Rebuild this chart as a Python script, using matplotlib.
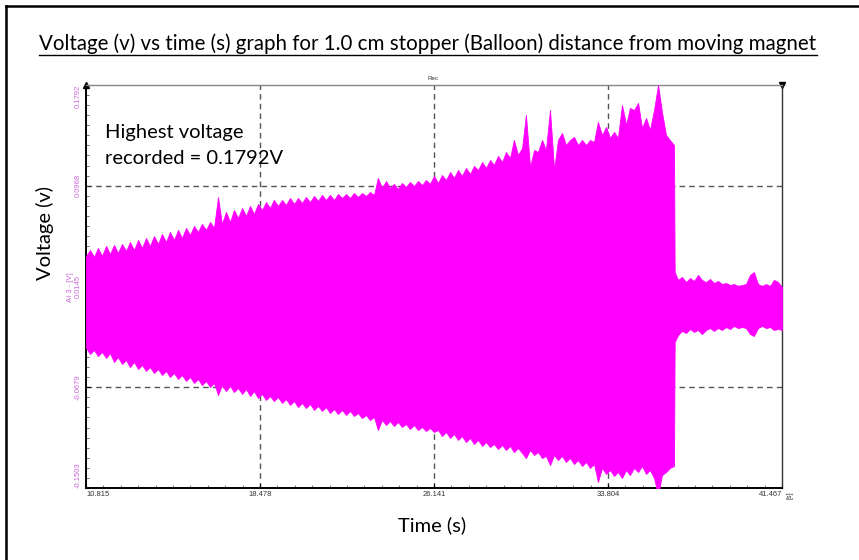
import matplotlib
matplotlib.use("Agg")
import matplotlib.pyplot as plt
from matplotlib.ticker import AutoMinorLocator
from matplotlib.lines import Line2D

# ---------------- data ----------------
time_s = [
    10.82, 10.99, 11.17, 11.34, 11.52, 11.70, 11.87, 12.05, 12.22, 12.40,
    12.58, 12.75, 12.93, 13.11, 13.28, 13.46, 13.63, 13.81, 13.99, 14.16,
    14.34, 14.51, 14.69, 14.87, 15.04, 15.22, 15.40, 15.57, 15.75, 15.92,
    16.10, 16.28, 16.45, 16.63, 16.80, 16.98, 17.16, 17.33, 17.51, 17.69,
    17.86, 18.04, 18.21, 18.39, 18.57, 18.74, 18.92, 19.09, 19.27, 19.45,
    19.62, 19.80, 19.98, 20.15, 20.33, 20.50, 20.68, 20.86, 21.03, 21.21,
    21.38, 21.56, 21.74, 21.91, 22.09, 22.27, 22.44, 22.62, 22.79, 22.97,
    23.15, 23.32, 23.50, 23.67, 23.85, 24.03, 24.20, 24.38, 24.55, 24.73,
    24.91, 25.08, 25.26, 25.44, 25.61, 25.79, 25.96, 26.14, 26.32, 26.49,
    26.67, 26.85, 27.02, 27.20, 27.37, 27.55, 27.73, 27.90, 28.08, 28.26,
    28.43, 28.61, 28.78, 28.96, 29.14, 29.31, 29.49, 29.66, 29.84, 30.02,
    30.19, 30.37, 30.55, 30.72, 30.90, 31.07, 31.25, 31.43, 31.60, 31.78,
    31.95, 32.13, 32.31, 32.48, 32.66, 32.84, 33.01, 33.19, 33.36, 33.54,
    33.72, 33.89, 34.07, 34.24, 34.42, 34.60, 34.77, 34.95, 35.13, 35.30,
    35.48, 35.65, 35.83, 36.01, 36.18, 36.36, 36.53, 36.71, 36.74, 36.89,
    37.06, 37.24, 37.42, 37.59, 37.77, 37.94, 38.12, 38.30, 38.47, 38.65,
    38.82, 39.00, 39.18, 39.35, 39.53, 39.71, 39.88, 40.06, 40.23, 40.41,
    40.59, 40.76, 40.94, 41.11, 41.29, 41.467,
]

upper_v = [
    0.0394, 0.0443, 0.0386, 0.0459, 0.0394, 0.0476, 0.0410, 0.0484, 0.0418, 0.0492,
    0.0435, 0.0508, 0.0443, 0.0525, 0.0459, 0.0541, 0.0476, 0.0557, 0.0492, 0.0574,
    0.0508, 0.0590, 0.0525, 0.0607, 0.0541, 0.0623, 0.0566, 0.0639, 0.0590, 0.0656,
    0.0607, 0.0672, 0.0623, 0.0876, 0.0656, 0.0754, 0.0672, 0.0770, 0.0705, 0.0786,
    0.0721, 0.0803, 0.0737, 0.0819, 0.0770, 0.0835, 0.0786, 0.0852, 0.0803, 0.0852,
    0.0811, 0.0868, 0.0819, 0.0868, 0.0827, 0.0876, 0.0835, 0.0885, 0.0844, 0.0893,
    0.0852, 0.0893, 0.0852, 0.0901, 0.0868, 0.0901, 0.0868, 0.0909, 0.0876, 0.0909,
    0.0885, 0.0917, 0.0893, 0.1032, 0.0950, 0.1007, 0.0950, 0.0983, 0.0942, 0.0991,
    0.0958, 0.0999, 0.0966, 0.1007, 0.0974, 0.1015, 0.0983, 0.1048, 0.0991, 0.1056,
    0.1015, 0.1081, 0.1032, 0.1097, 0.1048, 0.1113, 0.1064, 0.1130, 0.1097, 0.1162,
    0.1113, 0.1179, 0.1138, 0.1212, 0.1162, 0.1244, 0.1195, 0.1342, 0.1220, 0.1277,
    0.1547, 0.1122, 0.1261, 0.1244, 0.1342, 0.1261, 0.1588, 0.1097, 0.1342, 0.1400,
    0.1301, 0.1342, 0.1367, 0.1301, 0.1342, 0.1301, 0.1342, 0.1326, 0.1490, 0.1383,
    0.1449, 0.1359, 0.1408, 0.1359, 0.1629, 0.1465, 0.1604, 0.1588, 0.1645, 0.1440,
    0.1522, 0.1424, 0.1588, 0.1792, 0.1571, 0.1383, 0.1342, 0.1301, 0.0263, 0.0198,
    0.0222, 0.0181, 0.0214, 0.0190, 0.0239, 0.0198, 0.0181, 0.0206, 0.0173, 0.0190,
    0.0165, 0.0173, 0.0157, 0.0165, 0.0149, 0.0157, 0.0165, 0.0239, 0.0263, 0.0165,
    0.0149, 0.0165, 0.0149, 0.0198, 0.0181, 0.0140,
]

lower_v = [
    -0.0358, -0.0407, -0.0375, -0.0424, -0.0391, -0.0440, -0.0399, -0.0473, -0.0432, -0.0489,
    -0.0456, -0.0514, -0.0473, -0.0530, -0.0497, -0.0546, -0.0514, -0.0563, -0.0530, -0.0579,
    -0.0546, -0.0595, -0.0563, -0.0612, -0.0579, -0.0628, -0.0595, -0.0644, -0.0612, -0.0661,
    -0.0628, -0.0677, -0.0644, -0.0743, -0.0661, -0.0710, -0.0669, -0.0718, -0.0685, -0.0734,
    -0.0693, -0.0751, -0.0710, -0.0767, -0.0734, -0.0783, -0.0751, -0.0792, -0.0759, -0.0808,
    -0.0775, -0.0824, -0.0792, -0.0841, -0.0808, -0.0849, -0.0816, -0.0865, -0.0832, -0.0873,
    -0.0841, -0.0890, -0.0857, -0.0898, -0.0865, -0.0906, -0.0873, -0.0914, -0.0890, -0.0931,
    -0.0906, -0.0947, -0.0922, -0.1029, -0.0947, -0.0988, -0.0955, -0.0996, -0.0963, -0.1004,
    -0.0980, -0.1021, -0.0988, -0.1029, -0.1004, -0.1037, -0.1012, -0.1045, -0.1029, -0.1078,
    -0.1045, -0.1094, -0.1061, -0.1110, -0.1078, -0.1127, -0.1094, -0.1143, -0.1110, -0.1159,
    -0.1127, -0.1168, -0.1143, -0.1184, -0.1151, -0.1192, -0.1159, -0.1209, -0.1176, -0.1217,
    -0.1258, -0.1192, -0.1233, -0.1209, -0.1258, -0.1241, -0.1315, -0.1233, -0.1274, -0.1241,
    -0.1290, -0.1258, -0.1307, -0.1274, -0.1323, -0.1290, -0.1339, -0.1307, -0.1454, -0.1339,
    -0.1388, -0.1356, -0.1405, -0.1372, -0.1421, -0.1356, -0.1397, -0.1339, -0.1372, -0.1323,
    -0.1388, -0.1356, -0.1421, -0.1560, -0.1397, -0.1372, -0.1339, -0.1323, -0.0309, -0.0252,
    -0.0219, -0.0236, -0.0203, -0.0227, -0.0211, -0.0244, -0.0211, -0.0195, -0.0219, -0.0195,
    -0.0211, -0.0187, -0.0203, -0.0178, -0.0195, -0.0187, -0.0195, -0.0244, -0.0260, -0.0195,
    -0.0178, -0.0195, -0.0187, -0.0211, -0.0203, -0.0211,
]

x_ticks = [10.815, 18.478, 26.141, 33.804, 41.467]
x_tick_labels = ["10.815", "18.478", "26.141", "33.804", "41.467"]
y_ticks = [-0.1503, -0.0679, 0.0145, 0.0968, 0.1792]
y_tick_labels = ["-0.1503", "-0.0679", "0.0145", "0.0968", "0.1792"]

title = "Voltage (v) vs time (s) graph for 1.0 cm stopper (Balloon) distance from moving magnet"
annotation_lines = ["Highest voltage", "recorded = 0.1792V"]

# ---------------- figure ----------------
W, H = 859, 560
fig = plt.figure(figsize=(W / 100, H / 100), dpi=100)
fig.patch.set_facecolor("white")

def fx(px):
    return px / W

def fy(py):
    return 1 - py / H

# outer black frame (left and top edges visible)
fig.lines.append(Line2D([fx(6), fx(6)], [fy(6), fy(600)], transform=fig.transFigure,
                        color="black", linewidth=1.8))
fig.lines.append(Line2D([fx(6), fx(900)], [fy(6), fy(6)], transform=fig.transFigure,
                        color="black", linewidth=1.8))

ax = fig.add_axes([fx(86), fy(488), fx(782) - fx(86), fy(85) - fy(488)])
ax.set_xlim(x_ticks[0], x_ticks[-1])
ax.set_ylim(y_ticks[0], y_ticks[-1])

magenta = "#ff00ff"
ax.fill_between(time_s, lower_v, upper_v, color=magenta, edgecolor=magenta,
                linewidth=0.6, zorder=3)

grid_style = dict(color="#555555", linewidth=1.0, linestyle=(0, (4, 3)), zorder=1)
for t in x_ticks[1:-1]:
    ax.axvline(t, **grid_style)
for v in y_ticks[1:-1]:
    ax.axhline(v, **grid_style)

label_color = "#cc66dd"
ax.set_xticks(x_ticks)
ax.set_xticklabels(x_tick_labels, fontsize=5.5, family="Liberation Sans", color="#333333")
ax.set_yticks(y_ticks)
ax.set_yticklabels(y_tick_labels, fontsize=5.5, family="Liberation Sans",
                   color=label_color, rotation=90)
xl = ax.get_xticklabels()
xl[0].set_ha("left")
xl[-1].set_ha("right")
yl = ax.get_yticklabels()
for lab in yl:
    lab.set_va("center")
yl[0].set_va("bottom")
yl[-1].set_va("top")

ax.xaxis.set_minor_locator(AutoMinorLocator(10))
ax.yaxis.set_minor_locator(AutoMinorLocator(10))
ax.tick_params(which="major", direction="in", length=3, width=0.8, pad=2.5)
ax.tick_params(which="minor", direction="in", length=2, width=0.6, color="#555555")
ax.tick_params(axis="y", which="major", pad=3)

for side in ("left", "bottom"):
    ax.spines[side].set_color("black")
    ax.spines[side].set_linewidth(1.4)
ax.spines["top"].set_color("#888888")
ax.spines["top"].set_linewidth(1.0)
ax.spines["right"].set_color("#333333")
ax.spines["right"].set_linewidth(1.0)

# small corner markers of the recorder software
ax.plot([0], [1], marker="^", markersize=4, color="black", transform=ax.transAxes, clip_on=False)
ax.plot([1], [1], marker="v", markersize=4, color="black", transform=ax.transAxes, clip_on=False)

# texts
fig.text(fx(70), fy(287), "AI 3 - [V]", rotation=90, ha="center", va="center",
         fontsize=5.5, family="Liberation Sans", color=label_color)
fig.text(fx(433), fy(79), "Rec", ha="center", va="center", fontsize=4.5,
         family="Liberation Sans", color="#333333")
fig.text(fx(790), fy(495), "[s]", rotation=90, ha="center", va="center", fontsize=5,
         family="Liberation Sans", color="#333333")

fig.text(fx(45), fy(233), "Voltage (v)", rotation=90, ha="center", va="center",
         fontsize=14.5, family="Lato", color="black")
fig.text(fx(432), fy(525), "Time (s)", ha="center", va="center",
         fontsize=14.5, family="Lato", color="black")
for line, base_px in zip(annotation_lines, (138, 164)):
    fig.text(fx(105), fy(base_px), line, ha="left", va="baseline",
             fontsize=14.5, family="Lato", color="black", zorder=5)

ttl = fig.text(fx(428), fy(44), title, ha="center", va="center",
               fontsize=14.8, family="Lato", color="black")

# underline for the title
fig.canvas.draw()
bb = ttl.get_window_extent(renderer=fig.canvas.get_renderer())
uy = bb.y0 - 1.0
fig.lines.append(Line2D([bb.x0 / W, bb.x1 / W], [uy / H, uy / H],
                        transform=fig.transFigure, color="black", linewidth=1.0))

fig.savefig("out.png", dpi=100, facecolor="white")
